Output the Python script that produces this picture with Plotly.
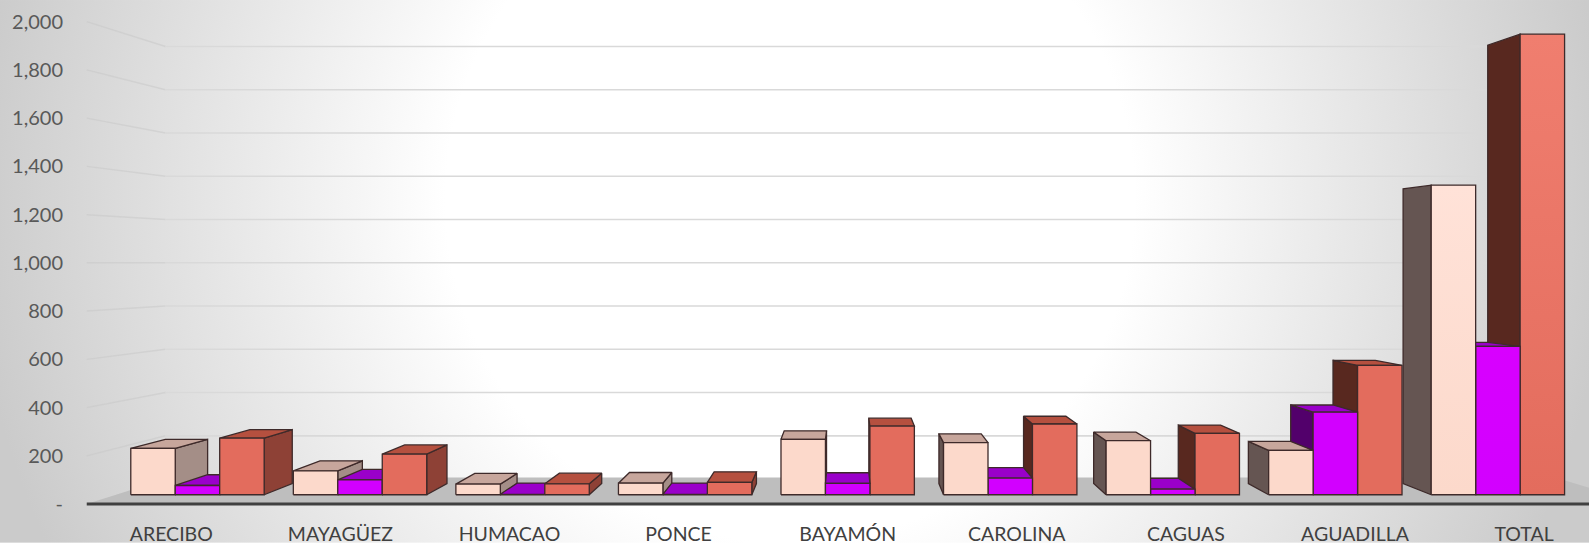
import base64
import plotly.graph_objects as go

# ---------------- data ----------------
categories = ["ARECIBO", "MAYAGÜEZ", "HUMACAO", "PONCE", "BAYAMÓN",
              "CAROLINA", "CAGUAS", "AGUADILLA", "TOTAL"]
series_pink = [200, 103, 46, 50, 239, 225, 233, 191, 1335]
series_purple = [40, 64, 2, 2, 49, 72, 24, 356, 640]
series_red = [244, 175, 47, 53, 296, 305, 265, 558, 1986]
y_tick_values = [0, 200, 400, 600, 800, 1000, 1200, 1400, 1600, 1800, 2000]
y_tick_labels = ["-", "200", "400", "600", "800", "1,000", "1,200",
                 "1,400", "1,600", "1,800", "2,000"]

# ---------------- styles ----------------
series_list = [series_pink, series_purple, series_red]
# front, top, right-facing side, left-facing side, front gradient (light) end
styles = [
    dict(front="#FCD9CB", light="#FFE2D8", top="#C7A69C", right="#A48E87", left="#655552"),
    dict(front="#D200FF", light="#D800FF", top="#9A00CA", right="#7A00A0", left="#52006B"),
    dict(front="#E36C5D", light="#F07E6F", top="#B5503F", right="#8E4136", left="#58281F"),
]
EDGE = "#3E2A2A"

# perspective set-up (data units)
VX, VY = 4.0, 1002.5
S_FRONT, S_BACK, S_WALL, S_FLOOR = 0.9613, 0.915, 0.8965, 0.89
BAR_W = 0.2735
X_LEFT, X_RIGHT = -0.5, 8.7
X_RANGE = [-0.599, 8.384]
Y_RANGE = [-24.4, 2073.1]
W, H = 1589, 545
M_L, M_R, M_T, M_B = 70, 0, 4, 33


def proj(x, v, s):
    return VX + (x - VX) * s, VY + (v - VY) * s


def poly(points, fill, line_color=EDGE, width=1.3, gradient=None):
    xs, ys = [], []
    for (x, v, s) in points + [points[0]]:
        px, py = proj(x, v, s)
        xs.append(px)
        ys.append(py)
    kw = {}
    if gradient is not None:
        kw["fillgradient"] = dict(type="vertical",
                                  colorscale=[[0, gradient[0]], [1, gradient[1]]])
    return go.Scatter(x=xs, y=ys, mode="lines", fill="toself",
                      fillcolor=fill, line=dict(color=line_color, width=width),
                      hoverinfo="skip", showlegend=False, **kw)


fig = go.Figure()

# ---------------- walls: gridlines ----------------
gx_side, gy_side, gx_back, gy_back = [], [], [], []
for v in y_tick_values[1:]:
    a = proj(X_LEFT, v, 1.0)
    b = proj(X_LEFT, v, S_WALL)
    c = proj(X_RIGHT, v, S_WALL)
    gx_side += [a[0], b[0], None]
    gy_side += [a[1], b[1], None]
    gx_back += [b[0], c[0], None]
    gy_back += [b[1], c[1], None]
fig.add_trace(go.Scatter(x=gx_side, y=gy_side, mode="lines",
                         line=dict(color="rgba(200,200,200,0.55)", width=1.5),
                         hoverinfo="skip", showlegend=False))
fig.add_trace(go.Scatter(x=gx_back, y=gy_back, mode="lines",
                         line=dict(color="#D9D9D9", width=1.6),
                         hoverinfo="skip", showlegend=False))

# ---------------- floor ----------------
fig.add_trace(poly([(X_LEFT, 0, 1.0), (X_RIGHT, 0, 1.0),
                    (X_RIGHT, 0, S_FLOOR), (X_LEFT, 0, S_FLOOR)],
                   "#BEBEBE", line_color="rgba(0,0,0,0)", width=0))
fx0, fy0 = proj(X_LEFT, 0, 1.0)
fx1, fy1 = proj(X_RIGHT, 0, 1.0)
fig.add_trace(go.Scatter(x=[fx0, fx1], y=[fy0, fy1], mode="lines",
                         line=dict(color="#404040", width=3),
                         hoverinfo="skip", showlegend=False))

# ---------------- bars (painter's order) ----------------
n_cat = len(categories)
bars = []
for i in range(n_cat):
    for j, ser in enumerate(series_list):
        x0 = i - 1.5 * BAR_W + j * BAR_W
        bars.append((x0, x0 + BAR_W, ser[i], j, i == n_cat - 1))
bars.sort(key=lambda b: -abs((b[0] + b[1]) / 2 - VX))

for (x0, x1, v, j, is_total) in bars:
    st = styles[j]
    if x1 <= VX + 1e-9:
        fig.add_trace(poly([(x1, 0, S_FRONT), (x1, v, S_FRONT),
                            (x1, v, S_BACK), (x1, 0, S_BACK)], st["right"]))
    elif x0 >= VX - 1e-9:
        fig.add_trace(poly([(x0, 0, S_FRONT), (x0, v, S_FRONT),
                            (x0, v, S_BACK), (x0, 0, S_BACK)], st["left"]))
    if v < VY:
        fig.add_trace(poly([(x0, v, S_FRONT), (x1, v, S_FRONT),
                            (x1, v, S_BACK), (x0, v, S_BACK)], st["top"]))
    grad = (st["front"], st["light"]) if is_total else None
    fig.add_trace(poly([(x0, 0, S_FRONT), (x1, 0, S_FRONT),
                        (x1, v, S_FRONT), (x0, v, S_FRONT)], st["front"],
                       gradient=grad))

# ---------------- background (radial gradient) ----------------
svg = f"""<svg xmlns='http://www.w3.org/2000/svg' width='{W}' height='{H}' viewBox='0 0 {W} {H}'>
<defs><radialGradient id='g' gradientUnits='userSpaceOnUse' cx='790' cy='200' r='820'>
<stop offset='0' stop-color='#FFFFFF'/><stop offset='0.42' stop-color='#FFFFFF'/>
<stop offset='1' stop-color='#CBCBCB'/></radialGradient></defs>
<rect width='{W}' height='{H}' fill='url(#g)'/></svg>"""
src = "data:image/svg+xml;base64," + base64.b64encode(svg.encode()).decode()
pw, ph = W - M_L - M_R, H - M_T - M_B

fig.update_layout(
    width=W, height=H,
    margin=dict(l=M_L, r=M_R, t=M_T, b=M_B, pad=0),
    paper_bgcolor="white", plot_bgcolor="rgba(0,0,0,0)",
    showlegend=False,
    images=[dict(source=src, xref="paper", yref="paper",
                 x=-M_L / pw, y=1 + M_T / ph, sizex=W / pw, sizey=H / ph,
                 xanchor="left", yanchor="top", sizing="stretch", layer="below")],
    xaxis=dict(range=X_RANGE, tickvals=list(range(n_cat)),
               ticktext=categories, showgrid=False, zeroline=False,
               showline=False, ticks="", ticklabelstandoff=10,
               tickfont=dict(family="Lato", size=19.5, color="#404040"),
               fixedrange=True),
    yaxis=dict(range=Y_RANGE, tickvals=y_tick_values, ticktext=y_tick_labels,
               showgrid=False, zeroline=False, showline=False, ticks="",
               ticklabelstandoff=6,
               tickfont=dict(family="Lato", size=20, color="#595959"),
               fixedrange=True),
)

fig.write_html("out.html", config={"displayModeBar": False},
               post_script="document.body.style.margin='0px';")
